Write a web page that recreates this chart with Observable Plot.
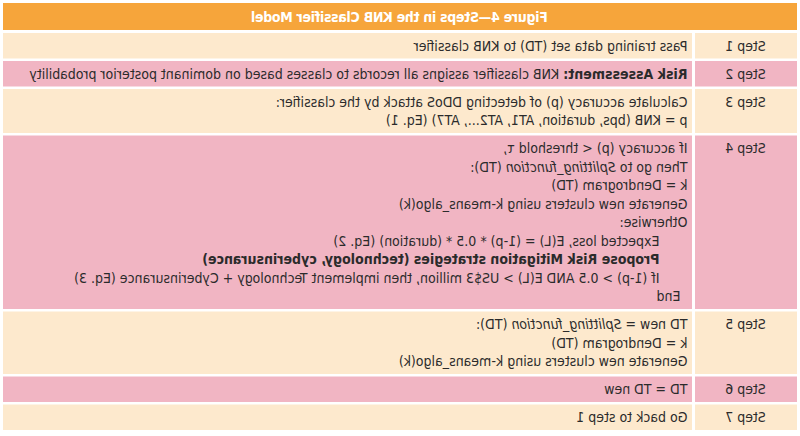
<!DOCTYPE html>
<html>
<head>
<meta charset="utf-8">
<script src="https://cdn.jsdelivr.net/npm/d3@7"></script>
<script src="https://cdn.jsdelivr.net/npm/@observablehq/plot@0.6"></script>
<style>
  html, body { margin: 0; padding: 0; background: #fff; }
  #chart svg { display: block; transform: scaleX(-1); }
</style>
</head>
<body>
<div id="chart"></div>
<script>
const title = "Figure 4\u2014Steps in the KNB Classifier Model";
const steps = ["Step 1", "Step 2", "Step 3", "Step 4", "Step 5", "Step 6", "Step 7"];
const stepShade = ["cream", "pink", "cream", "pink", "cream", "pink", "cream"];
// "**" = bold, "~" = italic, leading spaces = indentation
const stepLines = [
  ["Pass training data set (TD) to KNB classifier"],
  ["**Risk Assessment:** KNB classifier assigns all records to classes based on dominant posterior probability"],
  ["Calculate accuracy (p) of detecting DDoS attack by the classifier:",
   "p = KNB (bps, duration, AT1, AT2..., AT7) (Eq. 1)"],
  ["If accuracy (p) < threshold \u03c4,",
   "Then go to ~Splitting_function~ (TD):",
   "k = Dendrogram (TD)",
   "Generate new clusters using k-means_algo(k)",
   "Otherwise:",
   "    Expected loss, E(L) = (1-p) * 0.5 * (duration) (Eq. 2)",
   "    **Propose Risk Mitigation strategies (technology, cyberinsurance)**",
   "    If (1-p) > 0.5 AND E(L) > US$3 million, then implement Technology + Cyberinsurance (Eq. 3)",
   " End"],
  ["TD new = ~Splitting_function~ (TD):",
   "k = Dendrogram (TD)",
   "Generate new clusters using k-means_algo(k)"],
  ["TD = TD new"],
  ["Go back to step 1"]
];

// layout
const W = 800, H = 436;
const left = 3, right = 797, stepRight = 105, textLeft = 108;
const headTop = 3, headBottom = 30, firstRow = 33;
const lineH = 18.5, pad = 7, gap = 2.5;
const FS = 14;
const FONT = "'Liberation Sans Narrow', 'Arial Narrow', 'DejaVu Sans Condensed', sans-serif";

const rows = [];
const lines = [];
let y = firstRow;
steps.forEach((s, i) => {
  const n = stepLines[i].length;
  const h = n * lineH + pad;
  rows.push({step: s, shade: stepShade[i], y1: y, y2: y + h, yText: y + 13});
  stepLines[i].forEach((t, j) => {
    const indent = t.length - t.trimStart().length;
    lines.push({text: t.trimStart(), indent, y: y + 13 + j * lineH});
  });
  y += h + gap;
});

const chart = Plot.plot({
  width: W, height: H, margin: 0,
  style: {fontFamily: FONT, background: "#fff"},
  x: {domain: [0, W], range: [0, W], axis: null},
  y: {domain: [0, H], range: [0, H], axis: null},
  color: {domain: ["cream", "pink"], range: ["#fde9cd", "#f1b5c3"]},
  marks: [
    Plot.rect([title], {x1: left, x2: right, y1: headTop, y2: headBottom, fill: "#f6a53b"}),
    Plot.rect(rows, {x1: left, x2: stepRight, y1: "y1", y2: "y2", fill: "shade"}),
    Plot.rect(rows, {x1: textLeft, x2: right, y1: "y1", y2: "y2", fill: "shade"}),
    Plot.text([title], {x: (left + right) / 2, y: (headTop + headBottom) / 2 + 0.5, text: d => d,
      fill: "#fff", fontWeight: "bold", fontSize: 14, textAnchor: "middle", className: "title"}),
    Plot.text(rows, {x: (left + stepRight) / 2, y: "yText", text: "step",
      fill: "#2b2b2b", fontSize: FS, textAnchor: "middle"}),
    Plot.text(lines, {x: d => 112 + d.indent * 7, y: "y", text: "text",
      fill: "#2b2b2b", fontSize: FS, textAnchor: "start"})
  ]
});

d3.select(chart).selectAll("g.title text").attr("letter-spacing", "-0.3");

// apply inline bold / italic markup as tspans
d3.select(chart).selectAll("text").each(function() {
  const el = this;
  const s = el.textContent;
  if (!/\*\*|~/.test(s)) return;
  const parts = s.split(/(\*\*[^*]+\*\*|~[^~]+~)/).filter(p => p.length);
  el.textContent = "";
  parts.forEach(p => {
    const ts = document.createElementNS("http://www.w3.org/2000/svg", "tspan");
    if (p.startsWith("**")) { ts.textContent = p.slice(2, -2); ts.setAttribute("font-weight", "bold"); }
    else if (p.startsWith("~")) { ts.textContent = p.slice(1, -1); ts.setAttribute("font-style", "italic"); }
    else ts.textContent = p;
    el.appendChild(ts);
  });
});

document.getElementById("chart").appendChild(chart);
</script>
</body>
</html>
